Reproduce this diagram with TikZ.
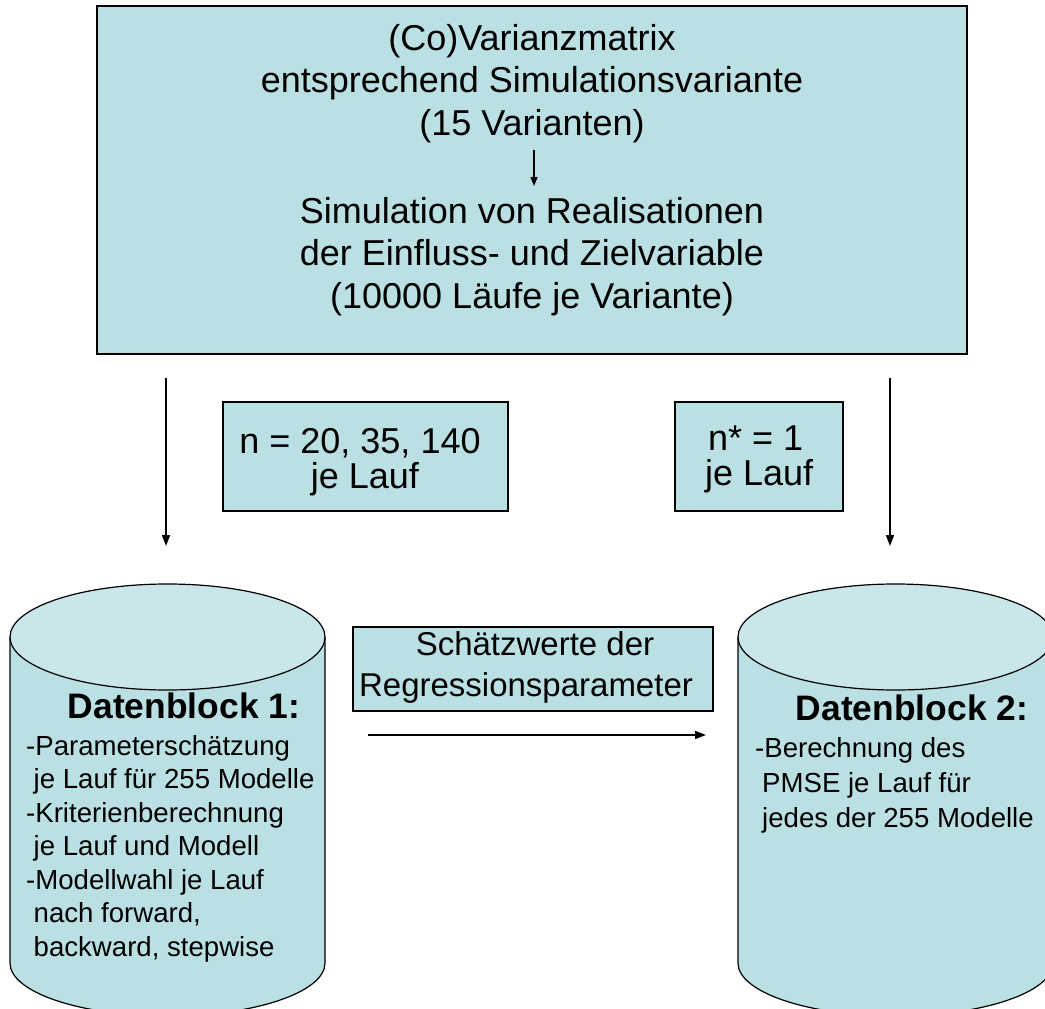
\documentclass[tikz,border=0pt]{standalone}
\usepackage{fontspec}
\setmainfont{Liberation Sans}
\usetikzlibrary{arrows.meta}
\definecolor{boxfill}{RGB}{187,224,227}
\definecolor{cyltop}{RGB}{201,231,234}
\begin{document}
\begin{tikzpicture}[x=1pt,y=-1pt,
  box/.style={draw=black, line width=1.6pt, fill=boxfill, inner sep=0pt},
  arr/.style={line width=1.5pt, -{Triangle[length=11pt,width=8pt]}},
  arrsmall/.style={line width=1.3pt, -{Triangle[length=9pt,width=7pt]}},
  cyl/.style={draw=black, line width=1.2pt},
  bigtxt/.style={inner sep=0pt, font=\fontsize{36}{42}\selectfont},
  midtxt/.style={inner sep=0pt, font=\fontsize{33}{40}\selectfont},
  smalltxt/.style={inner sep=0pt, anchor=base west, font=\fontsize{27.6}{33}\selectfont},
  headtxt/.style={inner sep=0pt, anchor=base, font=\fontsize{35.4}{40}\selectfont\bfseries}]
\useasboundingbox (0,0) rectangle (1045,1009);
\clip (0,0) rectangle (1045,1009);

% top box
\node[box, minimum width=870pt, minimum height=348pt] (top) at (532,180) {};
\node[bigtxt, anchor=base] (t1) at (532,50) {(Co)Varianzmatrix};
\node[bigtxt, anchor=base] (t2) at (532,92.5) {entsprechend Simulationsvariante};
\node[bigtxt, anchor=base] (t3) at (532,135) {(15 Varianten)};
\node[bigtxt, anchor=base] (t4) at (532,223) {Simulation von Realisationen};
\node[bigtxt, anchor=base] (t5) at (532,265.5) {der Einfluss- und Zielvariable};
\node[bigtxt, anchor=base] (t6) at (532,308) {(10000 Läufe je Variante)};
\coordinate (ta) at (534,150);
\coordinate (tb) at (534,186);
\draw[arrsmall] (ta) -- (tb);

% side arrows
\coordinate (la) at (166,378);
\coordinate (lb) at (166,546);
\draw[arr] (la) -- (lb);
\coordinate (ra) at (890,378);
\coordinate (rb) at (890,546);
\draw[arr] (ra) -- (rb);

% n boxes
\node[box, minimum width=285pt, minimum height=109pt] (nbox) at (365.5,456.5) {};
\node[bigtxt, anchor=base] (n1) at (360,453) {n = 20, 35, 140};
\node[bigtxt, anchor=base] (n2) at (365,488) {je Lauf};
\node[box, minimum width=168pt, minimum height=109pt] (nsbox) at (759,456.5) {};
\node[bigtxt, anchor=base west] (ns1) at (708,450) {n* = 1};
\node[bigtxt, anchor=base west] (ns2) at (705,485) {je Lauf};

% middle box and arrow
\node[box, minimum width=360pt, minimum height=84pt] (mbox) at (533,669) {};
\node[midtxt, anchor=base] (m1) at (535,655) {Schätzwerte der};
\node[midtxt, anchor=base] (m2) at (526,696) {Regressionsparameter};
\coordinate (ma) at (368,735);
\coordinate (mb) at (706,735);
\draw[arr] (ma) -- (mb);

% left cylinder
\fill[boxfill] (10,637) -- (10,963) arc[start angle=180,end angle=0,x radius=157.5,y radius=53] -- (325,637) -- cycle;
\draw[cyl] (10,637) -- (10,963) arc[start angle=180,end angle=0,x radius=157.5,y radius=53] -- (325,637);
\draw[cyl, fill=cyltop] (167.5,637) ellipse [x radius=157.5, y radius=53];
\node[headtxt] (d1) at (184,718) {Datenblock 1:};
\node[smalltxt] (a1) at (26,755) {-Parameterschätzung};
\node[smalltxt] (a2) at (33.5,788.5) {je Lauf für 255 Modelle};
\node[smalltxt] (a3) at (26,822) {-Kriterienberechnung};
\node[smalltxt] (a4) at (33.5,855.5) {je Lauf und Modell};
\node[smalltxt] (a5) at (26,889) {-Modellwahl je Lauf};
\node[smalltxt] (a6) at (33.5,922.5) {nach forward,};
\node[smalltxt] (a7) at (33.5,956) {backward, stepwise};

% right cylinder
\fill[boxfill] (738,637) -- (738,963) arc[start angle=180,end angle=0,x radius=157.5,y radius=53] -- (1053,637) -- cycle;
\draw[cyl] (738,637) -- (738,963) arc[start angle=180,end angle=0,x radius=157.5,y radius=53] -- (1053,637);
\draw[cyl, fill=cyltop] (895.5,637) ellipse [x radius=157.5, y radius=53];
\node[headtxt] (d2) at (912,720) {Datenblock 2:};
\node[smalltxt] (b1) at (755,757) {-Berechnung des};
\node[smalltxt] (b2) at (762,792) {PMSE je Lauf für};
\node[smalltxt] (b3) at (762,827) {jedes der 255 Modelle};
\end{tikzpicture}
\end{document}
